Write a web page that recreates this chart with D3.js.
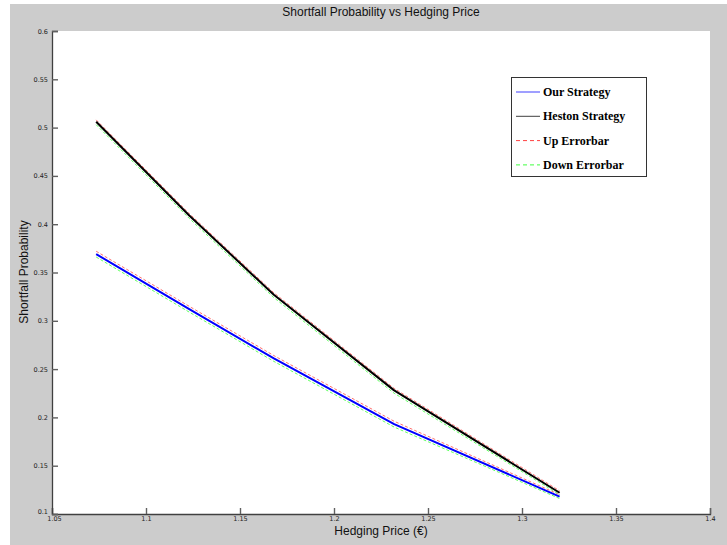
<!DOCTYPE html>
<html>
<head>
<meta charset="utf-8">
<script src="https://cdn.jsdelivr.net/npm/d3@7"></script>
<style>
 body { margin: 0; background: #ffffff; }
</style>
</head>
<body>
<div id="chart"></div>
<script>
var width = 727,
    height = 545;

// DATA
var prices = [1.0735, 1.123, 1.168, 1.232, 1.32];
var ourStrategy = [0.369, 0.312, 0.261, 0.193, 0.118];
var hestonStrategy = [0.506, 0.409, 0.327, 0.228, 0.122];
var ourUp = [0.372, 0.315, 0.264, 0.196, 0.120];
var ourDown = [0.366, 0.309, 0.258, 0.190, 0.116];
var hestonUp = [0.508, 0.411, 0.329, 0.230, 0.124];
var hestonDown = [0.503, 0.406, 0.324, 0.225, 0.120];
var xTicks = [1.05, 1.1, 1.15, 1.2, 1.25, 1.3, 1.35, 1.4];
var yTicks = [0.1, 0.15, 0.2, 0.25, 0.3, 0.35, 0.4, 0.45, 0.5, 0.55, 0.6];
var legendNames = ["Our Strategy", "Heston Strategy", "Up Errorbar", "Down Errorbar"];

var margin = {left: 52, top: 31, right: 710, bottom: 514};

var svg = d3.select("#chart").append("svg")
    .attr("width", width)
    .attr("height", height);

// BACKGROUND
svg.append("rect")
    .attr("x", 10).attr("y", 4)
    .attr("width", width - 10).attr("height", height - 4)
    .attr("fill", "#cccccc");

svg.append("rect")
    .attr("x", margin.left).attr("y", margin.top)
    .attr("width", margin.right - margin.left)
    .attr("height", margin.bottom - margin.top)
    .attr("fill", "#ffffff");

var x = d3.scaleLinear().domain([1.05, 1.4]).range([margin.left, margin.right]);
var y = d3.scaleLinear().domain([0.1, 0.6]).range([margin.bottom, margin.top]);

// AXES
var xAxis = svg.append("g")
    .attr("transform", "translate(0," + margin.bottom + ")")
    .call(d3.axisBottom(x).tickValues(xTicks).tickSize(-6).tickPadding(4)
        .tickFormat(function(d) { return d3.format("")(+d.toFixed(2)); }));
var yAxis = svg.append("g")
    .attr("transform", "translate(" + margin.left + ",0)")
    .call(d3.axisLeft(y).tickValues(yTicks).tickSize(-6).tickPadding(4)
        .tickFormat(function(d) { return d3.format("")(+d.toFixed(2)); }));

[xAxis, yAxis].forEach(function(a) {
    a.select(".domain").attr("stroke", "#404040").attr("stroke-width", 1.3);
    a.selectAll(".tick line").attr("stroke", "#606060").attr("stroke-width", 1.4);
    a.selectAll(".tick text")
        .attr("font-family", "DejaVu Sans, sans-serif")
        .attr("font-size", 6.5)
        .attr("fill", "#222222");
});
xAxis.selectAll(".tick text").attr("dy", "0.5em");
xAxis.selectAll(".tick").filter(function(d) { return d === 1.05; })
    .select("text").attr("dx", 2);
yAxis.selectAll(".tick").filter(function(d) { return d === 0.1; })
    .select("text").attr("dy", "-0.05em");

// LINES
var line = d3.line()
    .x(function(d) { return x(d[0]); })
    .y(function(d) { return y(d[1]); });

function series(vals, color, w, dash) {
    var p = svg.append("path")
        .datum(d3.zip(prices, vals))
        .attr("d", line)
        .attr("fill", "none")
        .attr("stroke", color)
        .attr("stroke-width", w)
        .attr("stroke-linejoin", "round");
    if (dash) p.attr("stroke-dasharray", dash);
}

series(ourUp, "#ff7070", 1, "3,2");
series(ourDown, "#60ff60", 1, "3,2");
series(hestonUp, "#ff7070", 1, "3,2");
series(hestonDown, "#60ff60", 1, "3,2");
series(ourStrategy, "#0000ff", 2);
series(hestonStrategy, "#000000", 2);

// TITLE AND LABELS
svg.append("text")
    .attr("x", 381).attr("y", 16)
    .attr("text-anchor", "middle")
    .attr("font-family", "Liberation Sans, Arial, sans-serif")
    .attr("font-size", 12)
    .attr("fill", "#111111")
    .text("Shortfall Probability vs Hedging Price");

svg.append("text")
    .attr("x", 381).attr("y", 535)
    .attr("text-anchor", "middle")
    .attr("font-family", "Liberation Sans, Arial, sans-serif")
    .attr("font-size", 12)
    .attr("fill", "#111111")
    .text("Hedging Price (\u20AC)");

svg.append("text")
    .attr("transform", "translate(28,272) rotate(-90)")
    .attr("text-anchor", "middle")
    .attr("font-family", "Liberation Sans, Arial, sans-serif")
    .attr("font-size", 12)
    .attr("fill", "#111111")
    .text("Shortfall Probability");

// LEGEND
var legend = svg.append("g").attr("class", "legend");
legend.append("rect")
    .attr("x", 511.5).attr("y", 77.5)
    .attr("width", 135).attr("height", 99)
    .attr("fill", "#ffffff")
    .attr("stroke", "#333333")
    .attr("stroke-width", 1);

var legendStyle = [
    {color: "#0000ff", dash: null, w: 1},
    {color: "#000000", dash: null, w: 1},
    {color: "#ff0000", dash: "4,3", w: 1},
    {color: "#00ff00", dash: "4,3", w: 1}
];

legendNames.forEach(function(name, i) {
    var ly = 92 + i * 24.3;
    var l = legend.append("line")
        .attr("x1", 516).attr("x2", 540)
        .attr("y1", ly).attr("y2", ly)
        .attr("stroke", legendStyle[i].color)
        .attr("stroke-width", legendStyle[i].w)
        .attr("opacity", 0.75);
    if (legendStyle[i].dash) l.attr("stroke-dasharray", legendStyle[i].dash);
    legend.append("text")
        .attr("x", 543).attr("y", ly + 4)
        .attr("font-family", "Liberation Serif, Times New Roman, serif")
        .attr("font-weight", "bold")
        .attr("font-size", 12)
        .attr("fill", "#000000")
        .text(name);
});
</script>
</body>
</html>
